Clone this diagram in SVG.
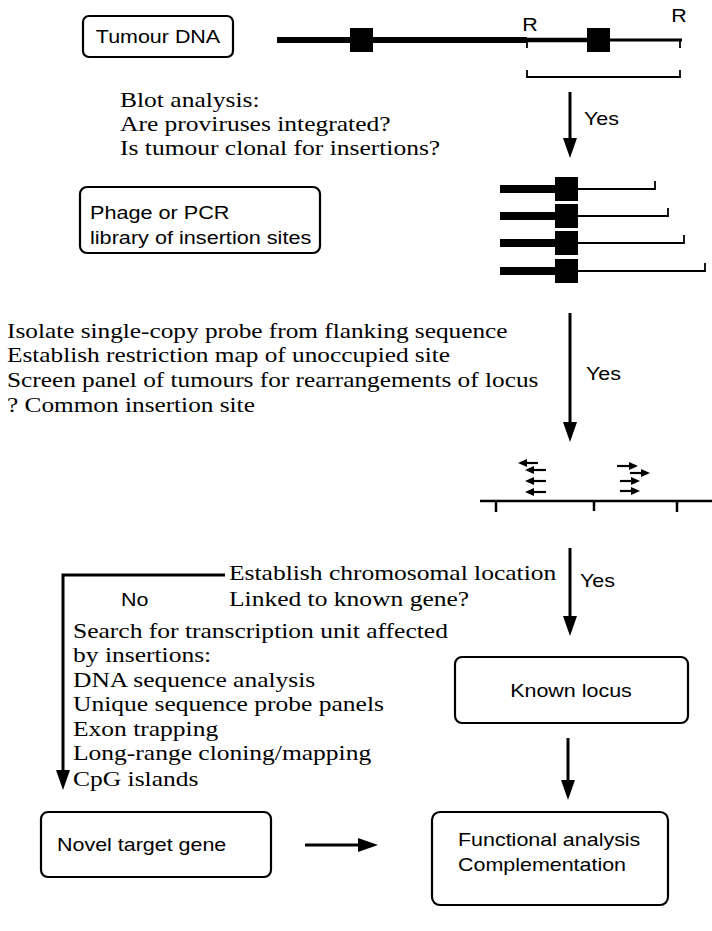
<svg xmlns="http://www.w3.org/2000/svg" width="712" height="931" viewBox="0 0 712 931">
<defs>
<style>
.serif{font-family:"Liberation Serif","Times New Roman",serif;font-size:22px;fill:#000}
.sans{font-family:"Liberation Sans",Arial,sans-serif;font-size:18.5px;fill:#000}
.box{fill:#fff;stroke:#000;stroke-width:2.2}
.conn{stroke:#000;stroke-width:3;fill:none}
.dna{stroke:#000;fill:none}
.thin{stroke:#000;stroke-width:1.8;fill:none}
.sm{stroke:#000;stroke-width:2.2;fill:none}
</style>
<marker id="ah" markerUnits="userSpaceOnUse" viewBox="0 0 20 14" markerWidth="20" markerHeight="14" refX="10" refY="7" orient="auto"><path d="M0,0 L20,7 L0,14 z" fill="#000"/></marker>
<marker id="sah" markerUnits="userSpaceOnUse" viewBox="0 0 9 8" markerWidth="9" markerHeight="8" refX="3" refY="4" orient="auto"><path d="M0,0 L9,4 L0,8 z" fill="#000"/></marker>
</defs>
<rect width="712" height="931" fill="#fff"/>

<g id="tumour-dna">
<rect class="box" x="83" y="16" width="150" height="41" rx="6"/>
<g transform="translate(158 0) scale(1.16 1)"><text class="sans" x="0" y="43" text-anchor="middle">Tumour DNA</text></g>
</g>

<g id="provirus-map">
<line class="dna" x1="277" y1="40" x2="527" y2="40" stroke-width="6"/>
<line class="dna" x1="527" y1="40" x2="595" y2="40" stroke-width="4.5"/>
<line class="dna" x1="600" y1="40" x2="682" y2="40" stroke-width="3"/>
<rect x="350" y="28" width="23" height="24" fill="#000"/>
<rect x="587" y="28" width="23" height="24" fill="#000"/>
<line class="thin" x1="527" y1="40" x2="527" y2="48"/>
<line class="thin" x1="680" y1="40" x2="680" y2="48"/>
<g transform="translate(530 0) scale(1.16 1)"><text class="sans" x="0" y="31" text-anchor="middle">R</text></g>
<g transform="translate(679 0) scale(1.16 1)"><text class="sans" x="0" y="22" text-anchor="middle">R</text></g>
<path class="thin" d="M527,70 V77 H680 V70"/>
</g>

<g id="blot-analysis">
<g transform="translate(120 0) scale(1.16 1)">
<text class="serif" x="0" y="107">Blot analysis:</text>
<text class="serif" x="0" y="131">Are proviruses integrated?</text>
<text class="serif" x="0" y="155">Is tumour clonal for insertions?</text>
</g>
</g>

<g id="phage-library">
<rect class="box" x="80" y="187" width="240" height="66" rx="7"/>
<g transform="translate(90 0) scale(1.17 1)">
<text class="sans" x="0" y="219">Phage or PCR</text>
<text class="sans" x="0" y="244">library of insertion sites</text>
</g>
</g>

<g id="insertion-clones">
<line class="dna" x1="500" y1="189" x2="556" y2="189" stroke-width="8"/>
<rect x="555" y="177" width="23" height="24" fill="#000"/>
<path class="thin" d="M578,189 H655 V181"/>
<line class="dna" x1="500" y1="216" x2="556" y2="216" stroke-width="8"/>
<rect x="555" y="204" width="23" height="24" fill="#000"/>
<path class="thin" d="M578,216 H668 V208"/>
<line class="dna" x1="500" y1="243" x2="556" y2="243" stroke-width="8"/>
<rect x="555" y="231" width="23" height="24" fill="#000"/>
<path class="thin" d="M578,243 H684 V235"/>
<line class="dna" x1="500" y1="271" x2="556" y2="271" stroke-width="8"/>
<rect x="555" y="259" width="23" height="24" fill="#000"/>
<path class="thin" d="M578,271 H705 V263"/>
</g>

<g id="probe-steps">
<g transform="translate(7 0) scale(1.15 1)">
<text class="serif" x="0" y="338">Isolate single-copy probe from flanking sequence</text>
<text class="serif" x="0" y="362">Establish restriction map of unoccupied site</text>
<text class="serif" x="0" y="387">Screen panel of tumours for rearrangements of locus</text>
<text class="serif" x="0" y="412">? Common insertion site</text>
</g>
</g>

<g id="common-site">
<line class="dna" x1="480" y1="501" x2="712" y2="501" stroke-width="2.5"/>
<line class="dna" x1="496" y1="501" x2="496" y2="512" stroke-width="2.5"/>
<line class="dna" x1="594" y1="501" x2="594" y2="511" stroke-width="2.5"/>
<line class="dna" x1="677" y1="501" x2="677" y2="512" stroke-width="2.5"/>
<line class="sm" x1="538" y1="463" x2="524" y2="463" marker-end="url(#sah)"/>
<line class="sm" x1="546" y1="470" x2="531" y2="470" marker-end="url(#sah)"/>
<line class="sm" x1="546" y1="481" x2="531" y2="481" marker-end="url(#sah)"/>
<line class="sm" x1="546" y1="492" x2="531" y2="492" marker-end="url(#sah)"/>
<line class="sm" x1="617" y1="466" x2="632" y2="466" marker-end="url(#sah)"/>
<line class="sm" x1="630" y1="473" x2="644" y2="473" marker-end="url(#sah)"/>
<line class="sm" x1="620" y1="481" x2="634" y2="481" marker-end="url(#sah)"/>
<line class="sm" x1="620" y1="491" x2="634" y2="491" marker-end="url(#sah)"/>
</g>

<g id="chromosomal-location">
<g transform="translate(229 0) scale(1.16 1)">
<text class="serif" x="0" y="580">Establish chromosomal location</text>
<text class="serif" x="0" y="606">Linked to known gene?</text>
</g>
</g>

<g id="transcription-search">
<g transform="translate(73 0) scale(1.16 1)">
<text class="serif" x="0" y="638">Search for transcription unit affected</text>
<text class="serif" x="0" y="662">by insertions:</text>
<text class="serif" x="0" y="687">DNA sequence analysis</text>
<text class="serif" x="0" y="711">Unique sequence probe panels</text>
<text class="serif" x="0" y="736">Exon trapping</text>
<text class="serif" x="0" y="760">Long-range cloning/mapping</text>
<text class="serif" x="0" y="786">CpG islands</text>
</g>
</g>

<g id="known-locus">
<rect class="box" x="455" y="657" width="233" height="66" rx="7"/>
<g transform="translate(571 0) scale(1.16 1)"><text class="sans" x="0" y="697" text-anchor="middle">Known locus</text></g>
</g>

<g id="novel-target-gene">
<rect class="box" x="41" y="812" width="230" height="65" rx="7"/>
<g transform="translate(57 0) scale(1.16 1)"><text class="sans" x="0" y="851">Novel target gene</text></g>
</g>

<g id="functional-analysis">
<rect class="box" x="432" y="812" width="236" height="93" rx="8"/>
<g transform="translate(458 0) scale(1.16 1)">
<text class="sans" x="0" y="846">Functional analysis</text>
<text class="sans" x="0" y="871">Complementation</text>
</g>
</g>

<g id="connectors">
<line class="conn" x1="570" y1="92" x2="570" y2="148" marker-end="url(#ah)"/>
<line class="conn" x1="570" y1="313" x2="570" y2="432" marker-end="url(#ah)"/>
<line class="conn" x1="570" y1="548" x2="570" y2="626" marker-end="url(#ah)"/>
<path class="conn" d="M225,575 H63 V780" marker-end="url(#ah)"/>
<line class="conn" x1="568" y1="738" x2="568" y2="790" marker-end="url(#ah)"/>
<line class="conn" x1="305" y1="845" x2="368" y2="845" marker-end="url(#ah)"/>
</g>

<g id="labels">
<g transform="translate(584 0) scale(1.16 1)"><text class="sans" x="0" y="125">Yes</text></g>
<g transform="translate(586 0) scale(1.16 1)"><text class="sans" x="0" y="380">Yes</text></g>
<g transform="translate(580 0) scale(1.16 1)"><text class="sans" x="0" y="587">Yes</text></g>
<g transform="translate(121 0) scale(1.16 1)"><text class="sans" x="0" y="606">No</text></g>
</g>
</svg>
